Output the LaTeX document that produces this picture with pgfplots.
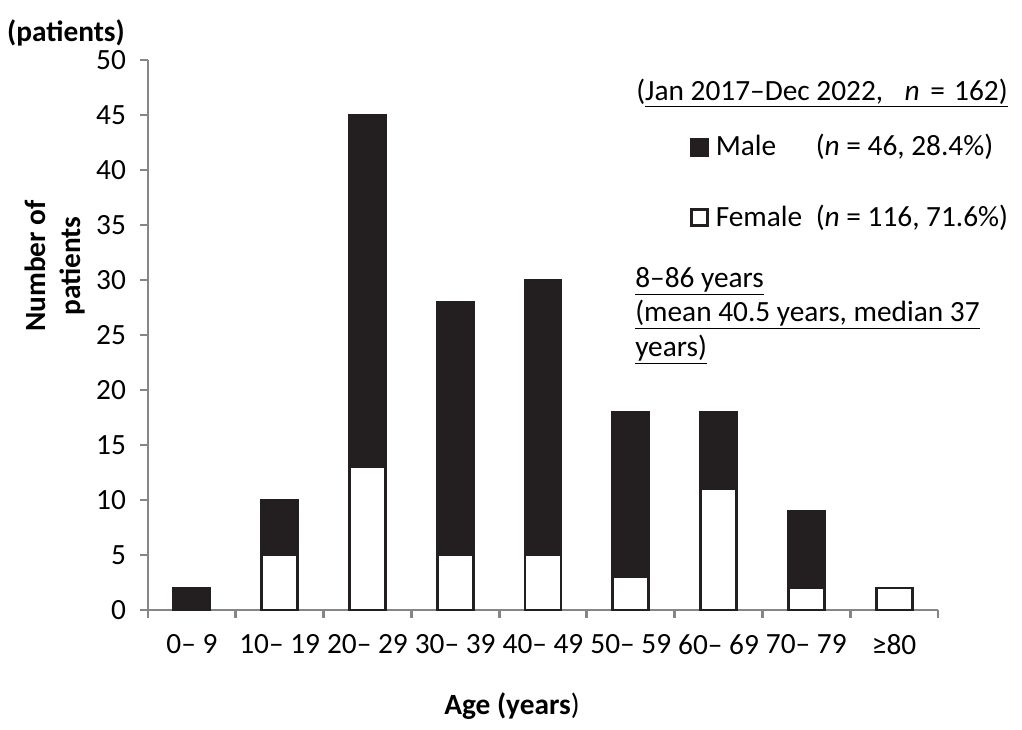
\documentclass[border=0pt]{standalone}
\usepackage{fontspec}
\setmainfont{Carlito}
\usepackage{pgfplots}
\pgfplotsset{compat=1.18}
\definecolor{axgray}{RGB}{134,134,136}
\definecolor{barblack}{RGB}{35,31,32}
\begin{document}
\fontsize{22}{26}\selectfont
\begin{tikzpicture}[x=0.75pt,y=0.75pt]
\path[use as bounding box] (0,0) rectangle (1022,729);
\begin{axis}[
    at={(111pt,89.25pt)}, anchor=south west,
    scale only axis, width=592.5pt, height=412.5pt,
    axis x line*=bottom,
    axis y line*=left,
    ybar stacked,
    bar width=0.41,
    xmin=-0.5, xmax=8.5, ymin=0, ymax=50,
    enlargelimits=false,
    clip=false,
    ytick={0,5,...,50},
    xtick={0,...,8},
    xticklabels={0-- 9,10-- 19,20-- 29,30-- 39,40-- 49,50-- 59,60-- 69,70-- 79,≥80},
    minor xtick={-0.5,0.5,...,8.5},
    major x tick style={draw=none},
    tick align=outside,
    major tick length=6pt,
    minor tick length=6pt,
    axis line style={axgray, line width=2.2pt},
    every tick/.style={axgray, line width=2.2pt},
    tick label style={font=\fontsize{22}{26}\selectfont},
    yticklabel style={xshift=-3pt},
    xticklabel style={yshift=-5pt},
    /pgf/number format/assume math mode=true,
    legend style={at={(0.686,0.870)}, anchor=north west, draw=none, fill=none,
        inner sep=0pt, row sep=29.5pt, font=\fontsize{22}{26}\selectfont,
        cells={anchor=west}},
    reverse legend,
]
% female (white), bottom of each stack
\addplot[draw=barblack, fill=white, line width=2.2pt,
    legend image code/.code={\draw[draw=barblack, fill=white, line width=2.2pt] (0pt,-6pt) rectangle (12pt,6pt);}]
 coordinates {(0,0) (1,5) (2,13) (3,5) (4,5) (5,3) (6,11) (7,2) (8,2)};
\addlegendentry{\hspace*{3pt}\makebox[75pt][l]{Female}(\textit{n} = 116, 71.6\%)}
% male (black), on top
\addplot[draw=barblack, fill=barblack, line width=2.2pt,
    legend image code/.code={\draw[draw=barblack, fill=barblack, line width=2.2pt] (0pt,-6pt) rectangle (12pt,6pt);}]
 coordinates {(0,2) (1,5) (2,32) (3,23) (4,25) (5,15) (6,7) (7,7) (8,0)};
\addlegendentry{\hspace*{3pt}\makebox[75pt][l]{Male}(\textit{n} = 46, 28.4\%)}
\end{axis}
\node[font=\bfseries] at (66,696) {(patients)};
\node[font=\bfseries\fontsize{22}{26}\selectfont, rotate=90, align=center] at (55,463) {Number of\\patients};
\node at (512,23) {\textbf{Age (years}) };
\node at (822,636) {(\underline{Jan 2017--Dec 2022,\hspace{16pt}\textit{n}\hspace{3pt} = \hspace{2pt}162)}};
\node[anchor=north west, align=left, inner sep=0pt, font=\fontsize{22}{26}\selectfont] at (635,462)
 {\underline{8--86 years}\\ \underline{(mean 40.5 years, median 37}\\ \underline{years)}};
\end{tikzpicture}
\end{document}
